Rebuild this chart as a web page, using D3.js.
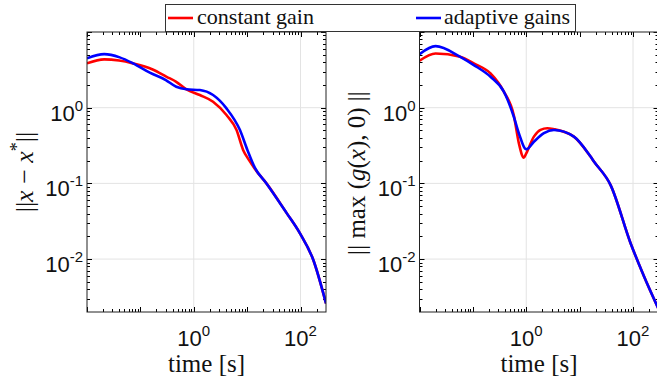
<!DOCTYPE html>
<html><head><meta charset="utf-8">
<script src="https://cdn.jsdelivr.net/npm/d3@7"></script>
<style>
html,body{margin:0;padding:0;background:#fff;}
svg{display:block;}
</style></head>
<body>
<svg id="c" width="657" height="387"></svg>
<script>
// ---- data ----
const seriesNames = ["constant gain", "adaptive gains"];
const seriesColors = ["#ff0000", "#0000ff"];

const tLeftRed   = [0.01,0.021,0.04,0.073,0.17,0.31,0.47,0.73,1.3,2.3,4.1,6.3,8.4,11,14,23,55,97,173,300];
const vLeftRed   = [3.85,4.35,4.2,3.85,3.2,2.56,2.2,1.75,1.47,1.2,0.8,0.51,0.277,0.2,0.155,0.1,0.0405,0.022,0.0098,0.0026];
const tLeftBlue  = [0.01,0.021,0.041,0.073,0.15,0.3,0.47,0.73,1.3,2.3,4.1,7.3,10.1,14,23,55,97,173,300];
const vLeftBlue  = [4.49,5.1,4.62,3.85,2.9,2.32,1.89,1.75,1.71,1.47,0.98,0.51,0.277,0.16,0.1,0.0405,0.022,0.0098,0.0026];

const tRightRed  = [0.01,0.02,0.058,0.104,0.214,0.38,0.585,0.726,0.9,1.0,1.39,1.85,2.48,3.3,7.8,16,18.5,38,90,161,300];
const vRightRed  = [4.17,5.2,4.7,3.85,2.84,1.63,0.79,0.34,0.219,0.25,0.415,0.51,0.535,0.52,0.415,0.226,0.195,0.095,0.0162,0.0059,0.0022];
const tRightBlue = [0.01,0.02,0.058,0.104,0.214,0.38,0.585,0.726,1.0,1.39,2.14,3.3,7.8,16,18.5,38,90,161,300];
const vRightBlue = [5.1,6.5,4.7,3.66,2.56,1.63,0.76,0.46,0.282,0.355,0.46,0.508,0.415,0.226,0.195,0.095,0.0162,0.0059,0.0022];

const xDomain = [0.01, 300];
const yDomain = [0.002, 10];
const xTickLabels = [1, 100];
const yTickLabels = [1, 0.1, 0.01];
const xGrid = [1, 100];
const yGrid = [1, 0.1, 0.01];
const xLabel = "time [s]";

const SERIF = "'" + ["Liberation", "Serif"].join(" ") + "'";
const SANS = "'" + ["Liberation", "Sans"].join(" ") + "'";

// ---- drawing ----
const svg = d3.select("#c");
const plotTop = 32, plotBottom = 312;

const panels = [
  {x0: 87, x1: 326, red: [tLeftRed, vLeftRed], blue: [tLeftBlue, vLeftBlue], id: "L"},
  {x0: 419.5, x1: 658.5, red: [tRightRed, vRightRed], blue: [tRightBlue, vRightBlue], id: "R"}
];

function decadeTicks(dom) {
  const major = [], minor = [];
  const lo = Math.floor(Math.log10(dom[0])), hi = Math.ceil(Math.log10(dom[1]));
  for (let e = lo; e <= hi; e++) {
    const b = Math.pow(10, e);
    if (b >= dom[0] && b <= dom[1]) major.push(b);
    for (let m = 2; m <= 9; m++) { const v = m * b; if (v > dom[0] && v < dom[1]) minor.push(v); }
  }
  return {major, minor};
}

function supLabel(sel, v) {
  const e = Math.round(Math.log10(v));
  sel.append("tspan").text("10");
  sel.append("tspan").attr("dy", -10).attr("font-size", 15).text(String(e));
}

panels.forEach(p => {
  const x = d3.scaleLog().domain(xDomain).range([p.x0, p.x1]);
  const y = d3.scaleLog().domain(yDomain).range([plotBottom, plotTop]);
  const g = svg.append("g");

  g.append("clipPath").attr("id", "clip" + p.id)
    .append("rect").attr("x", p.x0).attr("y", plotTop).attr("width", p.x1 - p.x0).attr("height", plotBottom - plotTop);

  // grid
  g.selectAll(".gx").data(xGrid).join("line")
    .attr("x1", d => x(d)).attr("x2", d => x(d)).attr("y1", plotTop).attr("y2", plotBottom)
    .attr("stroke", "#e3e3e3").attr("stroke-width", 1);
  g.selectAll(".gy").data(yGrid).join("line")
    .attr("y1", d => y(d)).attr("y2", d => y(d)).attr("x1", p.x0).attr("x2", p.x1)
    .attr("stroke", "#e3e3e3").attr("stroke-width", 1);

  // ticks (inward, all sides)
  const xt = decadeTicks(xDomain), yt = decadeTicks(yDomain);
  const tk = g.append("g").attr("stroke", "#000").attr("stroke-width", 1);
  [[xt.major, 5], [xt.minor, 3]].forEach(([arr, len]) => {
    arr.forEach(v => {
      const px = Math.round(x(v)) + 0.5;
      tk.append("line").attr("x1", px).attr("x2", px).attr("y1", plotBottom).attr("y2", plotBottom - len);
      tk.append("line").attr("x1", px).attr("x2", px).attr("y1", plotTop).attr("y2", plotTop + len);
    });
  });
  [[yt.major, 5], [yt.minor, 3]].forEach(([arr, len]) => {
    arr.forEach(v => {
      const py = Math.round(y(v)) + 0.5;
      tk.append("line").attr("y1", py).attr("y2", py).attr("x1", p.x0).attr("x2", p.x0 + len);
      tk.append("line").attr("y1", py).attr("y2", py).attr("x1", p.x1).attr("x2", p.x1 - len);
    });
  });

  // curves
  const line = d3.line().x(d => x(d[0])).y(d => y(d[1])).curve(d3.curveMonotoneX);
  const cg = g.append("g").attr("clip-path", "url(#clip" + p.id + ")");
  [[p.red, seriesColors[0]], [p.blue, seriesColors[1]]].forEach(([s, col]) => {
    const pts = s[0].map((t, i) => [t, s[1][i]]);
    cg.append("path").attr("d", line(pts)).attr("fill", "none")
      .attr("stroke", col).attr("stroke-width", 2.6).attr("stroke-linejoin", "round");
  });

  // frame
  g.append("rect").attr("x", p.x0).attr("y", plotTop).attr("width", p.x1 - p.x0).attr("height", plotBottom - plotTop)
    .attr("fill", "none").attr("stroke", "#222").attr("stroke-width", 1);

  // tick labels
  xTickLabels.forEach(v => {
    const t = g.append("text").attr("x", x(v)).attr("y", 345.5).attr("text-anchor", "middle")
      .style("font-family", SANS).attr("font-size", 22).attr("fill", "#111");
    supLabel(t, v);
  });
  yTickLabels.forEach(v => {
    const t = g.append("text").attr("x", p.x0 - 4).attr("y", y(v) + 13).attr("text-anchor", "end")
      .style("font-family", SANS).attr("font-size", 22).attr("fill", "#111");
    supLabel(t, v);
  });

  // x label
  g.append("text").attr("x", (p.x0 + 326 - 87 + p.x0) / 2).attr("y", 372)
    .attr("text-anchor", "middle").style("font-family", SERIF).attr("font-size", 25)
    .attr("fill", "#111").text(xLabel);
});

// y labels
const yl1 = svg.append("text").attr("transform", "translate(33,172) rotate(-90)")
  .attr("text-anchor", "middle").style("font-family", SERIF).attr("font-size", 26).attr("fill", "#111");
yl1.append("tspan").text("||");
yl1.append("tspan").attr("font-style", "italic").text("x");
yl1.append("tspan").text(" \u2212 ");
yl1.append("tspan").attr("font-style", "italic").text("x");
yl1.append("tspan").attr("dy", -10).attr("font-size", 18).text("*");
yl1.append("tspan").attr("dy", 10).text("||");

const yl2 = svg.append("text").attr("transform", "translate(365,173) rotate(-90)")
  .attr("text-anchor", "middle").style("font-family", SERIF).attr("font-size", 25).attr("fill", "#111");
yl2.append("tspan").text("|| max (");
yl2.append("tspan").attr("font-style", "italic").text("g");
yl2.append("tspan").text("(");
yl2.append("tspan").attr("font-style", "italic").text("x");
yl2.append("tspan").text("), 0) ||");

// legend
const lg = svg.append("g");
lg.append("rect").attr("x", 165.5).attr("y", 4.5).attr("width", 410).attr("height", 27)
  .attr("fill", "#fff").attr("stroke", "#333").attr("stroke-width", 1);
const legendItems = [
  {x: 168, tx: 197, w: 117},
  {x: 416, tx: 444, w: 126}
];
legendItems.forEach((it, i) => {
  lg.append("line").attr("x1", it.x).attr("x2", it.x + 25).attr("y1", 18).attr("y2", 18)
    .attr("stroke", seriesColors[i]).attr("stroke-width", 2.6);
  lg.append("text").attr("x", it.tx).attr("y", 24).style("font-family", SERIF)
    .attr("font-size", 21).attr("fill", "#111")
    .attr("textLength", it.w).attr("lengthAdjust", "spacingAndGlyphs").text(seriesNames[i]);
});
</script>
</body></html>
